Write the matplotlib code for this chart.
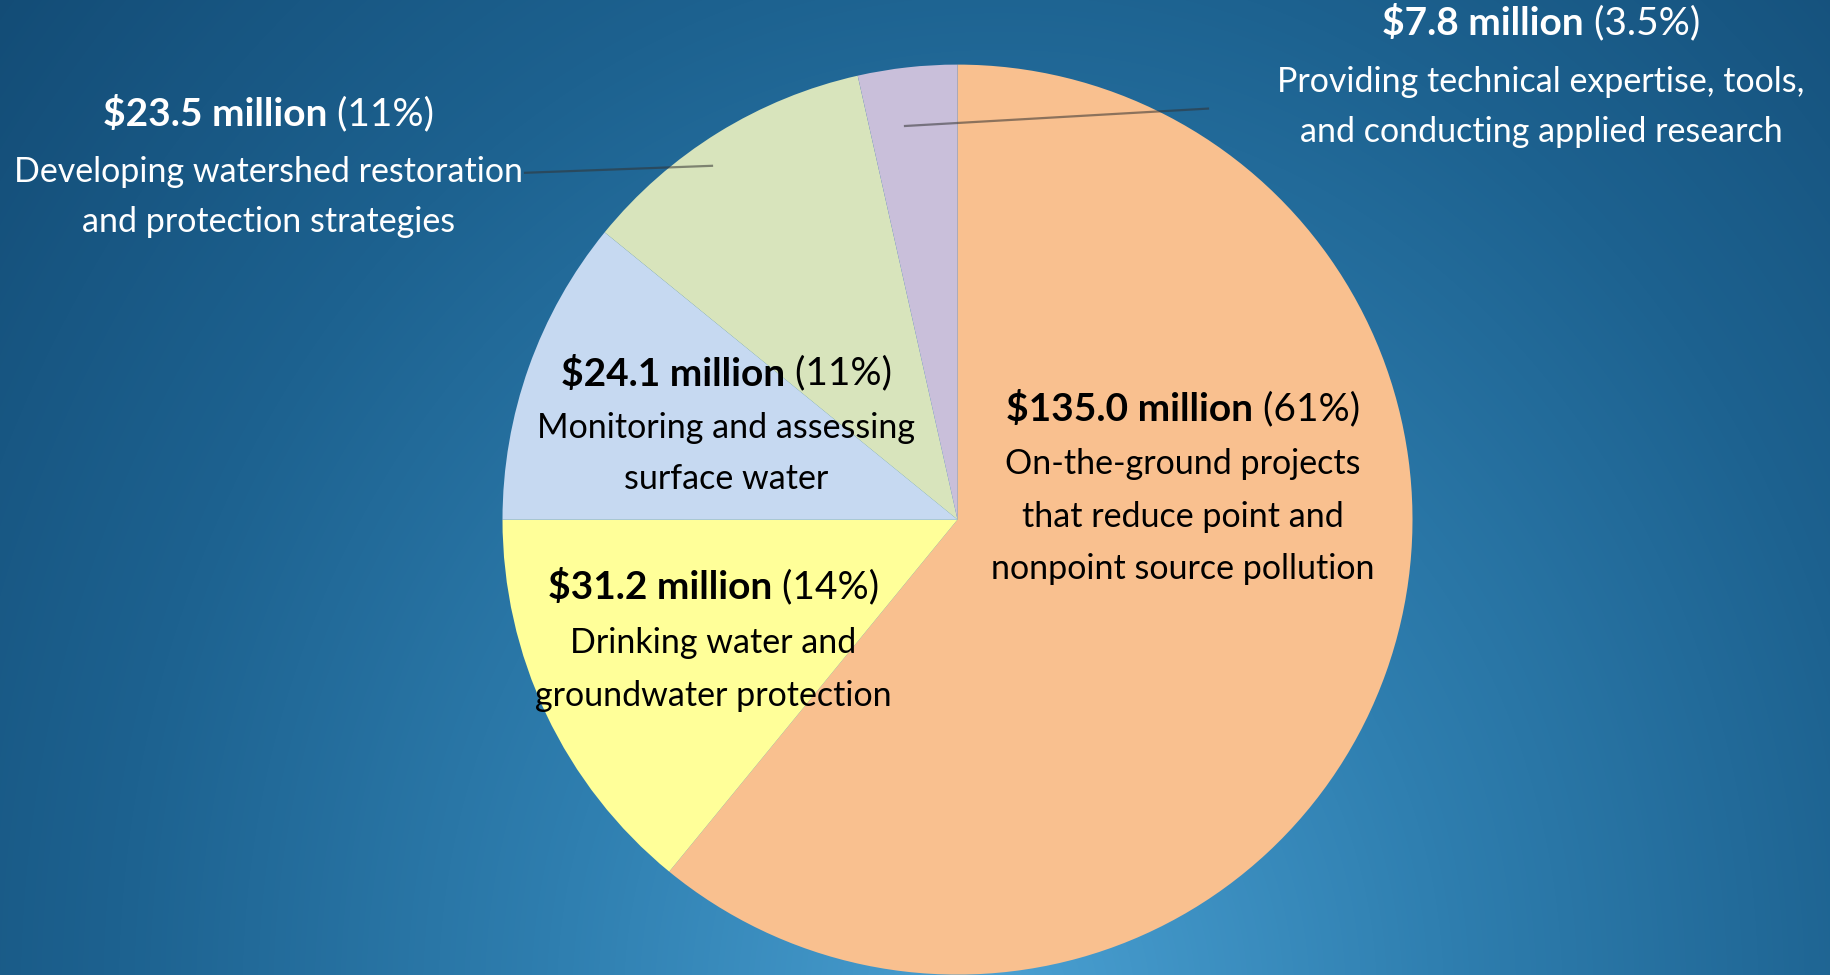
import numpy as np
import matplotlib.pyplot as plt
from matplotlib.colors import LinearSegmentedColormap

plt.rcParams['font.family'] = ['Lato', 'DejaVu Sans']

# data
amounts = [135.0, 31.2, 24.1, 23.5, 7.8]
value_labels = ["$135.0 million", "$31.2 million", "$24.1 million", "$23.5 million", "$7.8 million"]
pct_labels = ["(61%)", "(14%)", "(11%)", "(11%)", "(3.5%)"]
descriptions = [
    ["On-the-ground projects", "that reduce point and", "nonpoint source pollution"],
    ["Drinking water and", "groundwater protection"],
    ["Monitoring and assessing", "surface water"],
    ["Developing watershed restoration", "and protection strategies"],
    ["Providing technical expertise, tools,", "and conducting applied research"],
]
colors = ["#F9C08F", "#FFFF99", "#C6D9F1", "#D8E4BC", "#C9BFDA"]

W, H = 1831, 975
fig = plt.figure(figsize=(W / 100, H / 100), dpi=100)
ax = fig.add_axes([0, 0, 1, 1])

# background radial gradient
xx, yy = np.meshgrid(np.arange(W), np.arange(H))
r = np.sqrt(((xx - 1000) / 1100.0) ** 2 + ((yy - 1000) / 1300.0) ** 2)
r = np.clip(r / 1.2, 0, 1)
bg = LinearSegmentedColormap.from_list("bg", ["#4aa0d2", "#2f7fb0", "#1d6290", "#134c76"])
ax.imshow(bg(r), extent=[0, W, 0, H], origin="upper", zorder=0, interpolation="bilinear")

# pie
cx, cy, rad = 957.5, H - 519.6, 455
wedges, _ = ax.pie(amounts, colors=colors, startangle=90, counterclock=False,
                   center=(cx, cy), radius=rad, wedgeprops=dict(linewidth=0))
for w in wedges:
    w.set_zorder(2)

ax.set_xlim(0, W)
ax.set_ylim(0, H)
ax.set_aspect("auto")
ax.axis("off")

# leader lines
ax.plot([905, 1208], [H - 126, H - 108.6], color="#333333", alpha=0.55, lw=1.6, zorder=3)
ax.plot([712, 525], [H - 165.8, H - 172.8], color="#333333", alpha=0.55, lw=1.6, zorder=3)

# label positions (pixel coordinates from top)
label_x = [1183, 713.5, 726.3, 268.6, 1541]
label_y = [
    [409, 463.6, 517.3, 568.7],
    [587.4, 643.4, 696],
    [373.7, 428.5, 478.8],
    [114.4, 171.7, 221.9],
    [23.4, 81.7, 132],
]
text_colors = ["black", "black", "black", "white", "white"]
fs_head = 28
fs = 24.5

renderer = fig.canvas.get_renderer()
for i in range(len(amounts)):
    x0 = label_x[i]
    ys = label_y[i]
    tb = ax.text(0, H - ys[0], value_labels[i], fontsize=fs_head, fontweight="bold",
                 color=text_colors[i], ha="left", va="center", zorder=4)
    tr = ax.text(0, H - ys[0], " " + pct_labels[i], fontsize=fs_head,
                 color=text_colors[i], ha="left", va="center", zorder=4)
    wb = tb.get_window_extent(renderer).width
    wr = tr.get_window_extent(renderer).width
    start = x0 - (wb + wr) / 2
    tb.set_x(start)
    tr.set_x(start + wb)
    for line, y in zip(descriptions[i], ys[1:]):
        ax.text(x0, H - y, line, fontsize=fs, color=text_colors[i],
                ha="center", va="center", zorder=4)

fig.savefig("out.png", dpi=100)
